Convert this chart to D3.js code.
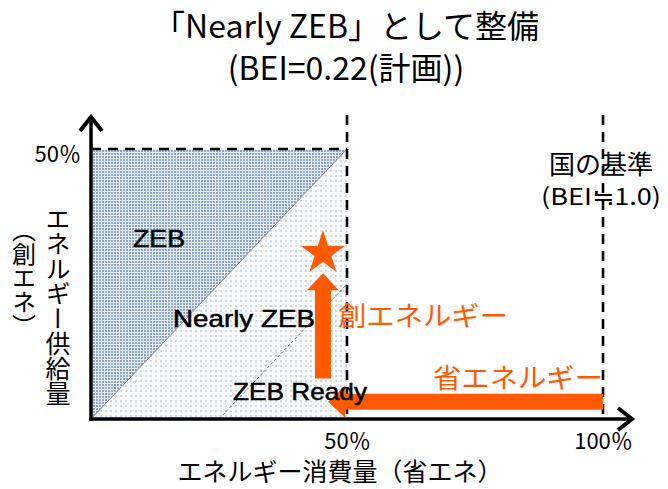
<!DOCTYPE html>
<html><head><meta charset="utf-8">
<script src="https://cdn.jsdelivr.net/npm/d3@7"></script>
<style>body{margin:0;background:#fff}svg{display:block}</style>
</head><body><svg id="c" width="668" height="489"></svg>
<script>
// ---- data ----
const titleLines = ["「Nearly ZEB」として整備", "(BEI=0.22(計画))"];
const xTicks = [50, 100];
const xTickLabels = ["50％", "100％"];
const yTicks = [50];
const yTickLabels = ["50％"];
const zoneNames = ["ZEB", "Nearly ZEB", "ZEB Ready"];
const zebLine = [[0, 0], [50, 50]];          // net zero boundary
const nearlyLine = [[25, 0], [50, 25]];      // Nearly ZEB boundary
const creEnergy = [45.3, 7.5, 27.0];         // x, from, to (supply %)
const saveEnergy = [3.2, 100, 46.3];         // y, from, to (consumption %)
const starPoint = [45.3, 30.7];
const standardLabel = ["国の基準", "(BEI≒1.0)"];
const arrowLabels = ["創エネルギー", "省エネルギー"];
const xLabel = "エネルギー消費量（省エネ）";
const yLabel = "エネルギー供給量";
const ySubLabel = "（創エネ）";

// ---- drawing ----
const svg = d3.select("#c");
const x = d3.scaleLinear().domain([0, 100]).range([91, 603]);
const y = d3.scaleLinear().domain([0, 50]).range([419, 149]);
const ORANGE = "#ff5a00";
const JP = "'Noto Sans CJK JP', 'Noto Sans', sans-serif";
const LAT = "'Liberation Sans', Arial, 'Noto Sans CJK JP', sans-serif";

const defs = svg.append("defs");
const pd = defs.append("pattern").attr("id", "dark").attr("width", 3).attr("height", 3).attr("patternUnits", "userSpaceOnUse");
pd.append("rect").attr("width", 3).attr("height", 3).attr("fill", "#e2eaf2");
pd.append("rect").attr("width", 2).attr("height", 2).attr("fill", "#8ea6c0");
const pl = defs.append("pattern").attr("id", "light").attr("width", 5).attr("height", 5).attr("patternUnits", "userSpaceOnUse");
pl.append("rect").attr("width", 5).attr("height", 5).attr("fill", "#fbfcfe");
pl.append("rect").attr("width", 2).attr("height", 2).attr("fill", "#cddbea");

const poly = d3.line().x(d => x(d[0])).y(d => y(d[1]));
// lower-right triangle (light)
svg.append("path").attr("d", poly([[0, 0], [50, 0], [50, 50]]) + "Z").attr("fill", "url(#light)");
// upper-left triangle (dark)
svg.append("path").attr("d", poly([[0, 0], [0, 50], [50, 50]]) + "Z").attr("fill", "url(#dark)");
// boundaries
svg.append("path").attr("d", poly(zebLine)).attr("stroke", "#8a8a8a").attr("stroke-width", 1).attr("fill", "none");
svg.append("path").attr("d", poly(nearlyLine)).attr("stroke", "#777").attr("stroke-width", 1)
  .attr("stroke-dasharray", "3,2").attr("fill", "none");

// dashed reference lines
const dash = "10,7";
svg.append("line").attr("x1", x(0)).attr("x2", x(50)).attr("y1", y(50)).attr("y2", y(50))
  .attr("stroke", "#000").attr("stroke-width", 2.6).attr("stroke-dasharray", dash);
xTicks.forEach(t => {
  svg.append("line").attr("x1", x(t)).attr("x2", x(t)).attr("y1", 115).attr("y2", y(0))
    .attr("stroke", "#000").attr("stroke-width", 2.6).attr("stroke-dasharray", dash);
});

// arrows
const SH = 8, HH = 16, HL = 17;
{
  const cx = x(creEnergy[0]), y0 = y(creEnergy[1]), y1 = y(creEnergy[2]);
  const pts = [[cx - SH, y0], [cx - SH, y1 + HL], [cx - HH, y1 + HL], [cx, y1], [cx + HH, y1 + HL], [cx + SH, y1 + HL], [cx + SH, y0]];
  svg.append("path").attr("d", d3.line()(pts) + "Z").attr("fill", ORANGE);
}
{
  const cy = y(saveEnergy[0]), x0 = x(saveEnergy[1]), x1 = x(saveEnergy[2]);
  const pts = [[x0, cy - SH], [x1 + HL, cy - SH], [x1 + HL, cy - HH], [x1, cy], [x1 + HL, cy + HH], [x1 + HL, cy + SH], [x0, cy + SH]];
  svg.append("path").attr("d", d3.line()(pts) + "Z").attr("fill", ORANGE);
}
svg.append("path").attr("d", d3.symbol(d3.symbolStar).size(600)())
  .attr("transform", `translate(${x(starPoint[0])},${y(starPoint[1])})`).attr("fill", ORANGE);

// zone labels
const zonePos = [[133, 247, 52], [173, 327, 142], [233, 400, 134]];
zoneNames.forEach((n, i) => {
  svg.append("text").attr("x", zonePos[i][0]).attr("y", zonePos[i][1]).text(n)
    .attr("font-family", LAT).attr("font-size", 24).attr("fill", "#000")
    .attr("stroke", "#000").attr("stroke-width", 0.5)
    .attr("textLength", zonePos[i][2]).attr("lengthAdjust", "spacingAndGlyphs");
});

// orange labels
svg.append("text").attr("x", 338).attr("y", 326).text(arrowLabels[0])
  .attr("font-family", JP).attr("font-size", 27).attr("fill", ORANGE)
  .attr("textLength", 170).attr("lengthAdjust", "spacingAndGlyphs");
svg.append("text").attr("x", 433).attr("y", 388).text(arrowLabels[1])
  .attr("font-family", JP).attr("font-size", 27).attr("fill", ORANGE)
  .attr("textLength", 170).attr("lengthAdjust", "spacingAndGlyphs");

// axes lines with arrowheads
svg.append("line").attr("x1", x(0)).attr("x2", x(0)).attr("y1", y(0) + 2).attr("y2", 117)
  .attr("stroke", "#000").attr("stroke-width", 3.5);
svg.append("line").attr("x1", x(0) - 2).attr("x2", 632).attr("y1", y(0)).attr("y2", y(0))
  .attr("stroke", "#000").attr("stroke-width", 3.5);
svg.append("path").attr("d", `M${x(0) - 11},${131} L${x(0)},${117} L${x(0) + 11},${131}`)
  .attr("fill", "none").attr("stroke", "#000").attr("stroke-width", 4);
svg.append("path").attr("d", `M${618},${y(0) - 11} L${632},${y(0)} L${618},${y(0) + 11}`)
  .attr("fill", "none").attr("stroke", "#000").attr("stroke-width", 4);

// tick labels via d3 axes
const xAxis = svg.append("g").attr("transform", `translate(0,${y(0)})`)
  .call(d3.axisBottom(x).tickValues(xTicks).tickFormat((d, i) => xTickLabels[i]).tickSize(0).tickPadding(14));
xAxis.select(".domain").remove();
xAxis.selectAll("text").attr("font-family", JP).attr("font-size", 22).attr("fill", "#000");
const yAxis = svg.append("g").attr("transform", `translate(${x(0)},0)`)
  .call(d3.axisLeft(y).tickValues(yTicks).tickFormat((d, i) => yTickLabels[i]).tickSize(0).tickPadding(10));
yAxis.select(".domain").remove();
yAxis.selectAll("text").attr("font-family", JP).attr("font-size", 22).attr("fill", "#000").attr("dy", "0.55em");

// axis titles
svg.append("text").attr("x", 340).attr("y", 481).attr("text-anchor", "middle").text(xLabel)
  .attr("font-family", JP).attr("font-size", 25).attr("fill", "#000");
svg.append("text").attr("x", 58).attr("y", 306).attr("text-anchor", "middle").text(yLabel)
  .style("writing-mode", "vertical-rl")
  .attr("font-family", JP).attr("font-size", 25).attr("fill", "#000");
svg.append("text").attr("x", 24).attr("y", 278).attr("text-anchor", "middle").text(ySubLabel)
  .style("writing-mode", "vertical-rl")
  .attr("font-family", JP).attr("font-size", 24).attr("fill", "#000");

// standard label
svg.append("text").attr("x", 601).attr("y", 174).attr("text-anchor", "middle").text(standardLabel[0])
  .attr("font-family", JP).attr("font-size", 26).attr("fill", "#000");
svg.append("text").attr("x", 601).attr("y", 205).attr("text-anchor", "middle").text(standardLabel[1])
  .attr("font-family", JP).attr("font-size", 23).attr("fill", "#000")
  .attr("textLength", 120).attr("lengthAdjust", "spacingAndGlyphs");

// title
titleLines.forEach((t, i) => {
  svg.append("text").attr("x", 346).attr("y", [38, 80][i]).attr("text-anchor", "middle").text(t)
    .attr("font-family", JP).attr("font-size", 32).attr("fill", "#000");
});
</script></body></html>
